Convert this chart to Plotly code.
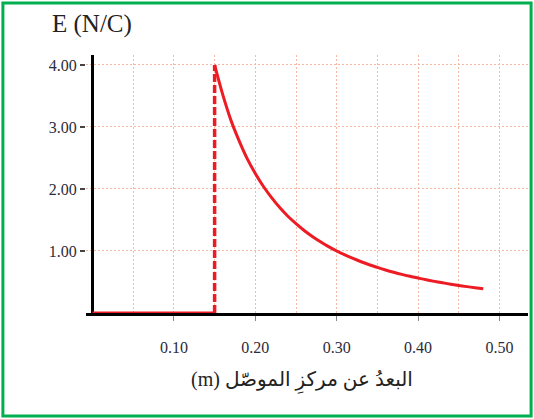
import plotly.graph_objects as go

# values
r_inside = [0.0, 0.15]
e_inside = [0.0, 0.0]

r_surface = [0.15, 0.15]
e_surface = [0.0, 4.0]

r_outside = [0.15, 0.16, 0.17, 0.18, 0.19, 0.20, 0.21, 0.22, 0.23, 0.24, 0.25, 0.26,
             0.27, 0.28, 0.29, 0.30, 0.31, 0.32, 0.33, 0.34, 0.35, 0.36, 0.37, 0.38,
             0.39, 0.40, 0.41, 0.42, 0.43, 0.44, 0.45, 0.46, 0.47, 0.48]
e_outside = [4.00, 3.52, 3.11, 2.78, 2.49, 2.25, 2.04, 1.86, 1.70, 1.56, 1.44, 1.33,
             1.235, 1.15, 1.07, 1.00, 0.937, 0.879, 0.826, 0.778, 0.735, 0.694, 0.657, 0.623,
             0.592, 0.563, 0.535, 0.510, 0.487, 0.465, 0.444, 0.425, 0.407, 0.39]

x_ticks = [0.10, 0.20, 0.30, 0.40, 0.50]
x_tick_text = ["0.10", "0.20", "0.30", "0.40", "0.50"]
x_minor = [0.05, 0.15, 0.25, 0.35, 0.45]
y_ticks = [1, 2, 3, 4]
y_tick_text = ["1.00", "2.00", "3.00", "4.00"]

RED = "#ed1c24"
GRID = "#f3b9a2"
SERIF = "Liberation Serif, DejaVu Serif, serif"

fig = go.Figure()
fig.add_trace(go.Scatter(x=r_inside, y=e_inside, mode="lines",
                         line=dict(color=RED, width=3), cliponaxis=False))
fig.add_trace(go.Scatter(x=r_surface, y=e_surface, mode="lines",
                         line=dict(color=RED, width=3.5, dash="8px,3px"), cliponaxis=False))
fig.add_trace(go.Scatter(x=r_outside, y=e_outside, mode="lines", line_shape="spline",
                         line=dict(color=RED, width=3), cliponaxis=False))

fig.update_xaxes(
    range=[-0.008, 0.535], showline=True, linecolor="black", linewidth=3,
    tickvals=x_ticks, ticktext=x_tick_text, ticks="outside", ticklen=5,
    tickcolor="#888", tickwidth=1, ticklabelstandoff=13,
    showgrid=True, gridcolor=GRID, griddash="2px,2px", gridwidth=1,
    minor=dict(tickvals=x_minor, showgrid=True, gridcolor=GRID, griddash="2px,2px", ticks=""),
    zeroline=True, zerolinecolor="black", zerolinewidth=3,
    layer="below traces",
    tickfont=dict(family=SERIF, size=16, color="#2b2b3a"),
)
fig.update_yaxes(
    range=[0, 4.16], showline=False,
    tickvals=y_ticks, ticktext=y_tick_text, ticks="outside", ticklen=5,
    tickcolor="#444", tickwidth=2,
    showgrid=True, gridcolor=GRID, griddash="2px,2px", gridwidth=1,
    zeroline=False, layer="below traces",
    tickfont=dict(family=SERIF, size=16, color="#2b2b3a"),
)

fig.add_annotation(text="E (N/C)", xref="paper", yref="paper", x=0.014, y=1.12,
                   xanchor="center", yanchor="middle", showarrow=False,
                   font=dict(family=SERIF, size=25, color="#222"))
fig.add_annotation(text="(m) البعدُ عن مركزِ الموصّل", xref="paper", yref="paper",
                   x=0.488, y=-0.262, xanchor="center", yanchor="middle", showarrow=False,
                   font=dict(family=SERIF + ", DejaVu Sans", size=20, color="#222"))

# green frame around the whole picture
fig.add_shape(type="rect", xref="paper", yref="paper",
              x0=-0.188, x1=1.007, y0=-0.399, y1=1.2016,
              line=dict(color="#00b050", width=3))

fig.update_layout(
    width=534, height=419,
    margin=dict(l=86, r=6, t=55, b=106),
    showlegend=False,
    plot_bgcolor="white", paper_bgcolor="white",
)

# drop the browser's default page margin so the figure sits at (0, 0)
fig.write_html("out.html", config={"displayModeBar": False},
               post_script="document.body.style.margin='0';document.body.style.overflow='hidden';")
